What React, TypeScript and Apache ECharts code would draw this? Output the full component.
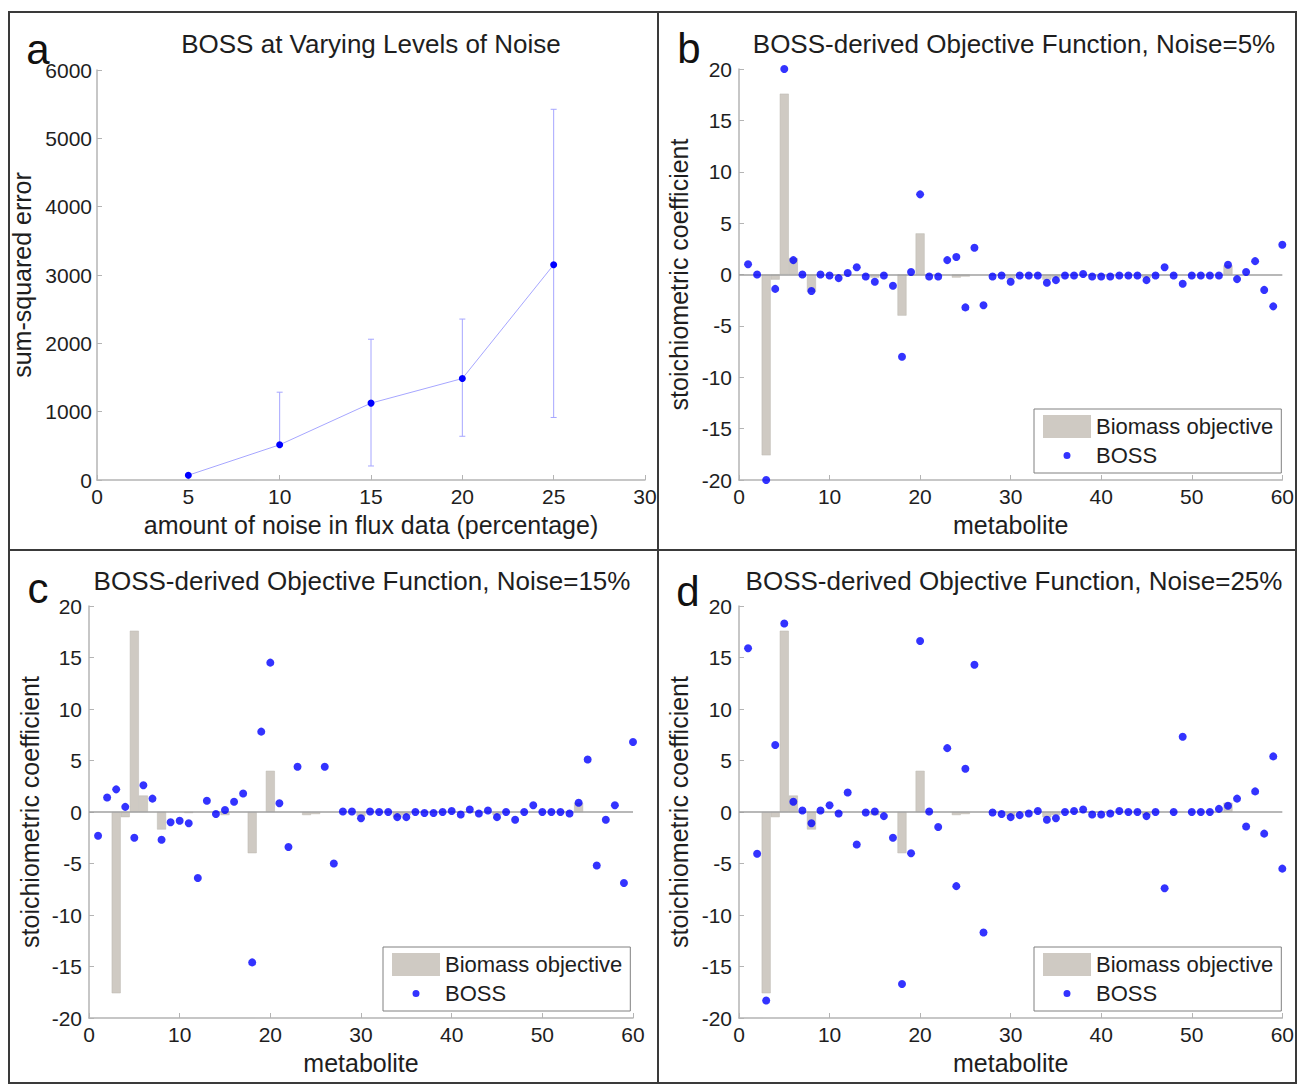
import React, { useEffect, useRef } from "react";
import * as echarts from "echarts";

// ---------- Panel a data ----------
const noiseLevels = [5, 10, 15, 20, 25];
const sumSquaredError = [70, 515, 1125, 1485, 3150];
const errorUpper: (number | null)[] = [null, 1285, 2060, 2355, 5425];
const errorLower: (number | null)[] = [null, null, 205, 640, 915];

// ---------- Panels b, c, d data (metabolite 1..60) ----------
const biomassObjective = [
  0, 0, -17.6, -0.5, 17.6, 1.6, 0, -1.7, 0, 0,
  -0.1, 0, 0, 0, -0.3, 0, 0, -4.0, 0, 4.0,
  0, 0, 0, -0.3, -0.2, 0, 0, 0, 0, -0.4,
  0, 0, 0, -0.5, -0.3, 0, 0, 0, 0, 0,
  0, 0, 0, 0, -0.3, 0, 0, 0, 0, 0,
  0, 0, 0, 0.9, 0, 0, 0, 0, 0, 0,
];

const boss5: (number | null)[] = [
  1.0, 0, -20, -1.4, 20, 1.4, 0, -1.6, 0, -0.1,
  -0.35, 0.15, 0.7, -0.2, -0.7, -0.1, -1.1, -8.0, 0.25, 7.8,
  -0.2, -0.2, 1.4, 1.7, -3.2, 2.6, -3.0, -0.2, -0.1, -0.7,
  -0.1, -0.1, -0.1, -0.8, -0.55, -0.1, -0.1, 0.05, -0.2, -0.2,
  -0.2, -0.1, -0.1, -0.1, -0.55, -0.1, 0.7, -0.1, -0.9, -0.1,
  -0.1, -0.1, -0.1, 0.95, -0.45, 0.25, 1.3, -1.5, -3.1, 2.9,
];

const boss15: (number | null)[] = [
  -2.3, 1.4, 2.2, 0.5, -2.5, 2.6, 1.3, -2.7, -1.0, -0.85,
  -1.1, -6.4, 1.1, -0.2, 0.2, 1.0, 1.8, -14.6, 7.8, 14.5,
  0.85, -3.4, 4.4, null, null, 4.4, -5.0, 0.05, 0.05, -0.6,
  0.05, 0, 0, -0.5, -0.5, 0, -0.1, -0.1, 0, 0.1,
  -0.25, 0.25, -0.15, 0.15, -0.5, 0, -0.75, 0, 0.65, 0,
  0, 0, -0.15, 0.9, 5.1, -5.2, -0.75, 0.65, -6.9, 6.8,
];

const boss25: (number | null)[] = [
  15.9, -4.05, -18.3, 6.5, 18.3, 1.0, 0.15, -1.1, 0.15, 0.65,
  -0.15, 1.9, -3.15, -0.05, 0.05, -0.4, -2.5, -16.7, -4.0, 16.6,
  0.05, -1.45, 6.2, -7.2, 4.2, 14.3, -11.7, -0.05, -0.2, -0.5,
  -0.3, -0.15, 0.1, -0.75, -0.6, 0, 0.1, 0.25, -0.25, -0.25,
  -0.15, 0.1, 0, 0, -0.4, 0, -7.4, 0, 7.3, 0,
  0, 0, 0.3, 0.6, 1.3, -1.4, 2.0, -2.1, 5.4, -5.5,
];

const panelTitles = [
  "BOSS at Varying Levels of Noise",
  "BOSS-derived Objective Function, Noise=5%",
  "BOSS-derived Objective Function, Noise=15%",
  "BOSS-derived Objective Function, Noise=25%",
];
const panelLetters = ["a", "b", "c", "d"];

// ---------- styling ----------
const FONT = "'Liberation Sans', Arial, Helvetica, sans-serif";
const TEXT = "#1e1e1e";
const AXIS = "#b4b4b4";
const BLUE = "#0000ff";
const LINE_BLUE = "#a6a6ff";
const BAR = "#cfcac3";

const grids = [
  { left: 97, top: 70, width: 548, height: 410 },
  { left: 739, top: 69, width: 544, height: 411 },
  { left: 89, top: 606, width: 544, height: 412 },
  { left: 739, top: 606, width: 544, height: 412 },
];

function makeAxis(
  gridIndex: number,
  min: number,
  max: number,
  interval: number,
  name: string,
  nameGap: number,
  labelMargin: number
) {
  return {
    gridIndex,
    type: "value",
    min,
    max,
    interval,
    name,
    nameLocation: "middle",
    nameGap,
    nameTextStyle: { fontSize: 25, color: TEXT, fontFamily: FONT },
    axisLine: { show: true, onZero: false, lineStyle: { color: AXIS, width: 1.5 } },
    axisTick: { show: true, inside: true, length: 5, lineStyle: { color: AXIS, width: 1 } },
    splitLine: { show: false },
    axisLabel: {
      fontSize: 21,
      color: TEXT,
      fontFamily: FONT,
      margin: labelMargin,
      formatter: (v: number) => String(v),
    },
  };
}

const BOSS_ICON =
  "path://M0,0M48,23M20.5,11.5a3.5,3.5 0 1,0 7,0a3.5,3.5 0 1,0 -7,0z";

function makeLegend(left: number, top: number) {
  return {
    left,
    top,
    orient: "vertical",
    selectedMode: false,
    itemWidth: 48,
    itemHeight: 23,
    itemGap: 6,
    padding: [6, 8, 6, 9],
    backgroundColor: "#ffffff",
    borderColor: "#808080",
    borderWidth: 1,
    textStyle: { fontSize: 22, color: TEXT, fontFamily: FONT },
    data: [
      { name: "Biomass objective", icon: "rect", itemStyle: { color: BAR, borderWidth: 0 } },
      { name: "BOSS", icon: BOSS_ICON, itemStyle: { color: BLUE, borderWidth: 0 } },
    ],
  };
}

function App() {
  const ref = useRef<HTMLDivElement>(null);

  useEffect(() => {
    if (!ref.current) return;
    const chart = echarts.init(ref.current, undefined, { renderer: "svg" });

    const barData = biomassObjective
      .map((v, i) => [i + 1, v])
      .filter((d) => d[1] !== 0);

    const bossSets = [boss5, boss15, boss25];

    const xAxes: any[] = [
      makeAxis(0, 0, 30, 5, "amount of noise in flux data (percentage)", 32, 6),
    ];
    const yAxes: any[] = [makeAxis(0, 0, 6000, 1000, "sum-squared error", 63, 5)];
    const yNameGaps = [48, 47, 48];
    for (let k = 1; k <= 3; k++) {
      xAxes.push(makeAxis(k, 0, 60, 10, "metabolite", 32, 6));
      yAxes.push(makeAxis(k, -20, 20, 5, "stoichiometric coefficient", yNameGaps[k - 1], 7));
    }

    const series: any[] = [];

    // Panel a: error bars
    series.push({
      type: "custom",
      name: "error",
      xAxisIndex: 0,
      yAxisIndex: 0,
      silent: true,
      z: 1,
      encode: { x: 0, y: [1, 2, 3] },
      data: noiseLevels.map((x, i) => [
        x,
        sumSquaredError[i],
        errorLower[i] ?? sumSquaredError[i],
        errorUpper[i] ?? sumSquaredError[i],
      ]),
      renderItem: (params: any, api: any) => {
        const x = api.value(0);
        const y = api.value(1);
        const lo = api.value(2);
        const hi = api.value(3);
        const pLo = api.coord([x, lo]);
        const pHi = api.coord([x, hi]);
        const st = { stroke: LINE_BLUE, lineWidth: 1 };
        const children: any[] = [];
        if (hi > y || lo < y) {
          children.push({ type: "line", shape: { x1: pHi[0], y1: pHi[1], x2: pLo[0], y2: pLo[1] }, style: st });
        }
        if (hi > y) {
          children.push({ type: "line", shape: { x1: pHi[0] - 3, y1: pHi[1], x2: pHi[0] + 3, y2: pHi[1] }, style: st });
        }
        if (lo < y) {
          children.push({ type: "line", shape: { x1: pLo[0] - 3, y1: pLo[1], x2: pLo[0] + 3, y2: pLo[1] }, style: st });
        }
        return { type: "group", children };
      },
    });

    // Panel a: line with markers
    series.push({
      type: "line",
      name: "sum-squared error",
      xAxisIndex: 0,
      yAxisIndex: 0,
      z: 3,
      data: noiseLevels.map((x, i) => [x, sumSquaredError[i]]),
      symbol: "circle",
      symbolSize: 7,
      showAllSymbol: true,
      itemStyle: { color: BLUE, borderWidth: 0 },
      lineStyle: { color: LINE_BLUE, width: 1 },
    });

    // Panels b, c, d
    for (let k = 1; k <= 3; k++) {
      series.push({
        type: "bar",
        name: "Biomass objective",
        xAxisIndex: k,
        yAxisIndex: k,
        barWidth: 9,
        z: 2,
        data: barData,
        itemStyle: { color: BAR, borderColor: "#bdb8b0", borderWidth: 0.5 },
        markLine: {
          silent: true,
          symbol: "none",
          label: { show: false },
          lineStyle: { color: "#a0a0a0", width: 1.5, type: "solid" },
          data: [{ yAxis: 0 }],
        },
      });
      const vals = bossSets[k - 1];
      series.push({
        type: "scatter",
        name: "BOSS",
        xAxisIndex: k,
        yAxisIndex: k,
        z: 5,
        symbol: "circle",
        symbolSize: 8,
        itemStyle: { color: BLUE, borderWidth: 0 },
        data: vals
          .map((v, i) => (v === null ? null : [i + 1, v]))
          .filter((d) => d !== null),
      });
    }

    const titleCenters = [
      [371, 44],
      [1014, 44],
      [362, 581],
      [1014, 581],
    ];
    const letterCenters = [
      [38, 49],
      [689, 48],
      [38, 588],
      [688, 591],
    ];

    const graphic: any[] = [
      {
        type: "rect",
        shape: { x: 9, y: 12, width: 1287, height: 1071 },
        style: { fill: "none", stroke: "#3a3a3a", lineWidth: 2 },
        silent: true,
      },
      {
        type: "line",
        shape: { x1: 658, y1: 12, x2: 658, y2: 1083 },
        style: { stroke: "#3a3a3a", lineWidth: 2 },
        silent: true,
      },
      {
        type: "line",
        shape: { x1: 9, y1: 550, x2: 1296, y2: 550 },
        style: { stroke: "#3a3a3a", lineWidth: 2 },
        silent: true,
      },
    ];
    panelTitles.forEach((t, i) => {
      graphic.push({
        type: "text",
        x: titleCenters[i][0],
        y: titleCenters[i][1],
        silent: true,
        style: {
          text: t,
          fill: TEXT,
          font: `26px ${FONT}`,
          align: "center",
          verticalAlign: "middle",
        },
      });
    });
    panelLetters.forEach((t, i) => {
      graphic.push({
        type: "text",
        x: letterCenters[i][0],
        y: letterCenters[i][1],
        silent: true,
        z: 10,
        style: {
          text: t,
          fill: "#111111",
          font: `42px ${FONT}`,
          align: "center",
          verticalAlign: "middle",
        },
      });
    });

    chart.setOption({
      animation: false,
      backgroundColor: "#ffffff",
      textStyle: { fontFamily: FONT },
      grid: grids,
      xAxis: xAxes,
      yAxis: yAxes,
      legend: [makeLegend(1034, 409), makeLegend(383, 947), makeLegend(1034, 947)],
      series,
      graphic,
    });

    return () => {
      chart.dispose();
    };
  }, []);

  return (
    <div
      ref={ref}
      style={{ position: "absolute", left: 0, top: 0, width: 1297, height: 1084, background: "#fff" }}
    />
  );
}

export default App;
